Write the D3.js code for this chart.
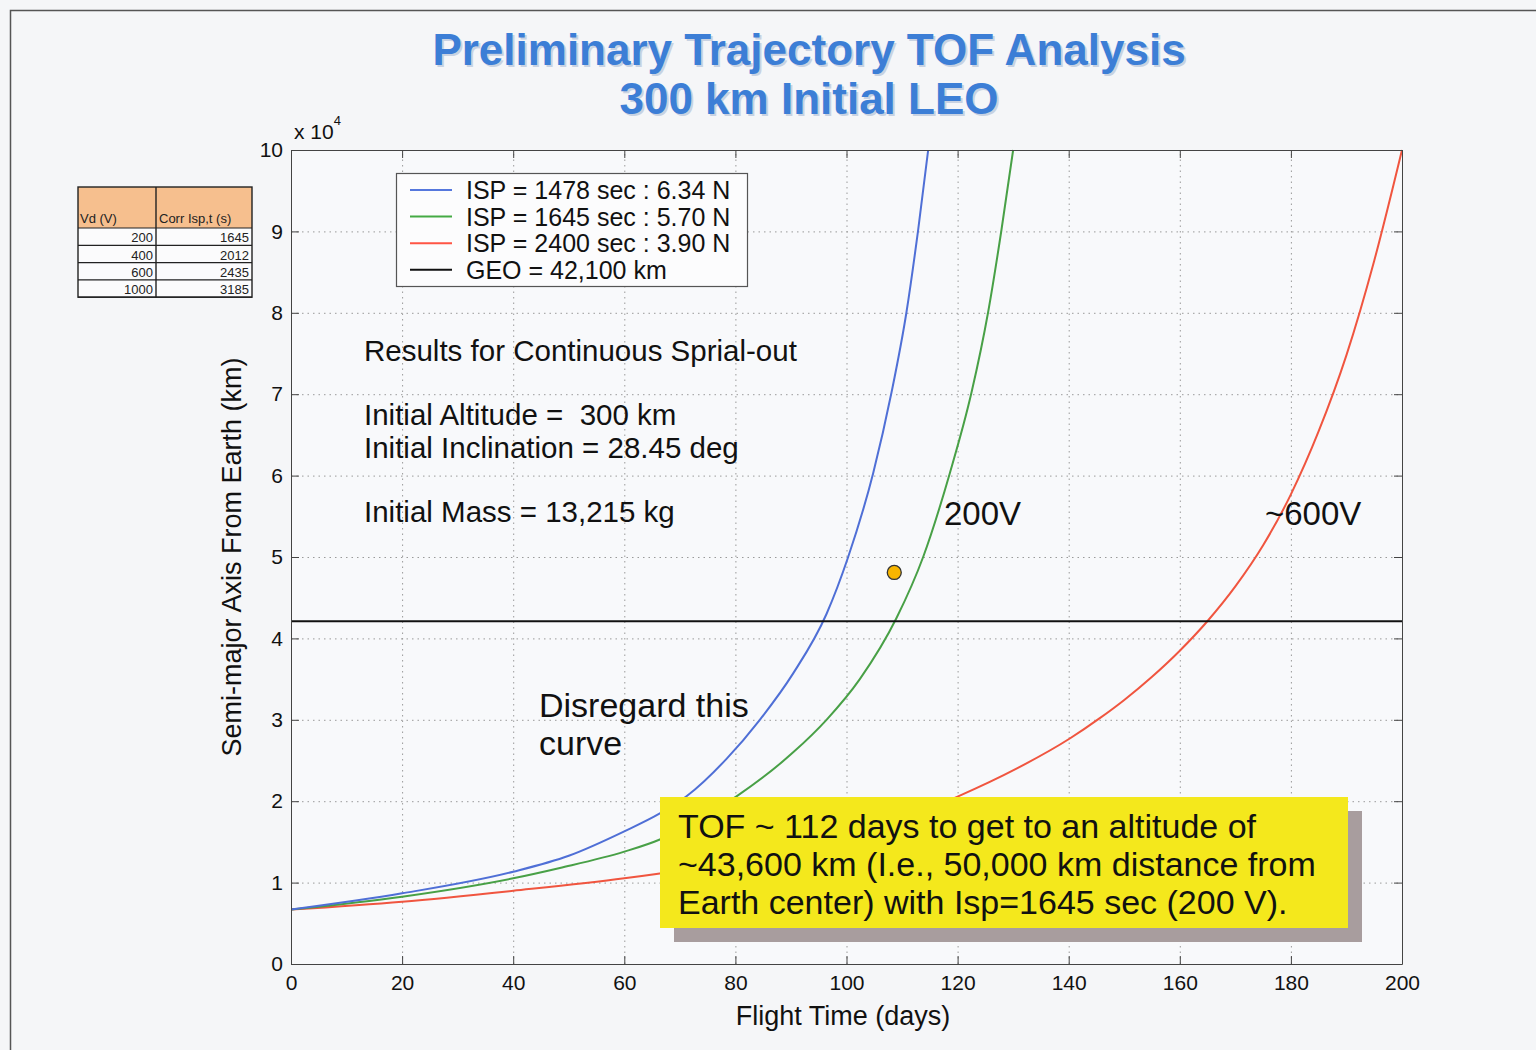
<!DOCTYPE html>
<html><head><meta charset="utf-8">
<script src="https://cdn.jsdelivr.net/npm/d3@7"></script>
<style>
body{margin:0;background:#f5f6f8;}
svg{display:block;font-family:"Liberation Sans",Arial,Helvetica,sans-serif;}
text{white-space:pre;}
</style></head><body>
<svg id="chart" width="1536" height="1050"></svg>
<script>
// ---- data (semi-major axis, km, vs flight time, days) ----
const blueDays  = [0, 20, 40, 50, 60, 66.4, 71.2, 78.4, 84.4, 90.4, 96.4, 100.3, 104.8, 108.1, 110.8, 112.9, 114.7];
const blueVals  = [6680, 8680, 11340, 13300, 16300, 18500, 20600, 25200, 30000, 35700, 43000, 50000, 60300, 70200, 80100, 90200, 100000];
const greenDays = [0, 20, 40, 48.4, 60, 66.4, 72, 80.2, 90.4, 96.4, 102.4, 109.0, 113.8, 118.6, 122.5, 125.5, 127.9, 130.0];
const greenVals = [6680, 8270, 10530, 11800, 13800, 15300, 17200, 20600, 26000, 30000, 35000, 42500, 50000, 60300, 70200, 80100, 90200, 100000];
const redDays   = [0, 20, 40, 60, 80, 100, 110, 120.1, 130.6, 140.2, 145.6, 150, 155, 160, 165, 170, 175, 180, 185, 190, 195, 200];
const redVals   = [6680, 7650, 9000, 10530, 12600, 15600, 17800, 20600, 24000, 27700, 30200, 32440, 35290, 38490, 42140, 46390, 51440, 57700, 65450, 74800, 86400, 100000];
const geoValue  = 42100;
const dotDay = 108.6, dotVal = 48100;

const legendLabels = ["ISP = 1478 sec : 6.34 N", "ISP = 1645 sec : 5.70 N", "ISP = 2400 sec : 3.90 N", "GEO = 42,100 km"];
const legendColors = ["#5577dd", "#44aa44", "#ff5544", "#111111"];
const seriesColors = ["#4f6fd6", "#48a046", "#f0553f"];

const xTicks = [0, 20, 40, 60, 80, 100, 120, 140, 160, 180, 200];
const yTicks = [0, 10000, 20000, 30000, 40000, 50000, 60000, 70000, 80000, 90000, 100000];

const tableHeaders = ["Vd (V)", "Corr Isp,t (s)"];
const tableVd  = [200, 400, 600, 1000];
const tableIsp = [1645, 2012, 2435, 3185];

const titleLines = ["Preliminary Trajectory TOF Analysis", "300 km Initial LEO"];
const noteLines = ["Results for Continuous Sprial-out", "Initial Altitude =  300 km", "Initial Inclination = 28.45 deg", "Initial Mass = 13,215 kg"];
const boxLines = ["TOF ~ 112 days to get to an altitude of", "~43,600 km (I.e., 50,000 km distance from", "Earth center) with Isp=1645 sec (200 V)."];

// ---- chart ----
const svg = d3.select("#chart");
const X0 = 291, X1 = 1402, Y0 = 964, Y1 = 150;
const x = d3.scaleLinear().domain([0, 200]).range([X0, X1]);
const y = d3.scaleLinear().domain([0, 100000]).range([Y0, Y1]);

// outer frame
svg.append("rect").attr("width", 1536).attr("height", 1050).attr("fill", "#f5f6f8");
svg.append("path").attr("d", "M10.5,1050 V10.5 H1536").attr("fill", "none").attr("stroke", "#555").attr("stroke-width", 1.5);

// title
titleLines.forEach((t, i) => {
  svg.append("text").attr("x", 811).attr("y", 67 + i * 49).attr("text-anchor", "middle")
    .attr("font-size", 44).attr("font-weight", "bold").attr("fill", "#c8d2e2").text(t);
  svg.append("text").attr("x", 809).attr("y", 65 + i * 49).attr("text-anchor", "middle")
    .attr("font-size", 44).attr("font-weight", "bold").attr("fill", "#3c7ed6").text(t);
});

// plot background
svg.append("rect").attr("x", X0).attr("y", Y1).attr("width", X1 - X0).attr("height", Y0 - Y1).attr("fill", "#f8f9fb");

// grid
const grid = svg.append("g");
grid.append("g").attr("transform", `translate(0,${Y0})`)
  .call(d3.axisBottom(x).tickValues(xTicks).tickSize(-(Y0 - Y1)).tickFormat(""))
  .call(g => { g.select(".domain").remove(); g.selectAll("line").attr("stroke", "#9a9a9a").attr("stroke-dasharray", "1.5,4"); });
grid.append("g").attr("transform", `translate(${X0},0)`)
  .call(d3.axisLeft(y).tickValues(yTicks).tickSize(-(X1 - X0)).tickFormat(""))
  .call(g => { g.select(".domain").remove(); g.selectAll("line").attr("stroke", "#9a9a9a").attr("stroke-dasharray", "1.5,4"); });

// curves
svg.append("clipPath").attr("id", "clip").append("rect").attr("x", X0).attr("y", Y1 - 1).attr("width", X1 - X0 + 1).attr("height", Y0 - Y1 + 1);
const line = d3.line().x(d => x(d[0])).y(d => y(d[1])).curve(d3.curveMonotoneX);
const series = [
  [d3.zip(redDays, redVals), seriesColors[2]],
  [d3.zip(greenDays, greenVals), seriesColors[1]],
  [d3.zip(blueDays, blueVals), seriesColors[0]]
];
const plot = svg.append("g").attr("clip-path", "url(#clip)");
series.forEach(([s, c]) => {
  plot.append("path").attr("d", line(s)).attr("fill", "none").attr("stroke", c).attr("stroke-width", 2);
});
plot.append("line").attr("x1", x(0)).attr("x2", x(200)).attr("y1", y(geoValue)).attr("y2", y(geoValue))
  .attr("stroke", "#111").attr("stroke-width", 2);

// axes
const axStyle = g => { g.selectAll(".domain, line").attr("stroke", "#444"); g.selectAll("text").attr("fill", "#111").attr("font-size", 21).attr("font-family", "Liberation Sans, Arial, sans-serif"); };
svg.append("g").attr("transform", `translate(0,${Y0})`)
  .call(d3.axisBottom(x).tickValues(xTicks).tickSizeInner(-8).tickSizeOuter(0).tickPadding(11).tickFormat(d3.format("d")))
  .call(axStyle);
svg.append("g").attr("transform", `translate(0,${Y1})`)
  .call(d3.axisTop(x).tickValues(xTicks).tickSizeInner(-8).tickSizeOuter(0).tickFormat(""))
  .call(axStyle);
svg.append("g").attr("transform", `translate(${X0},0)`)
  .call(d3.axisLeft(y).tickValues(yTicks).tickSizeInner(-8).tickSizeOuter(0).tickPadding(8).tickFormat(d => d / 10000))
  .call(axStyle);
svg.append("g").attr("transform", `translate(${X1},0)`)
  .call(d3.axisRight(y).tickValues(yTicks).tickSizeInner(-8).tickSizeOuter(0).tickFormat(""))
  .call(axStyle);

// exponent label
const ex = svg.append("text").attr("x", 294).attr("y", 139).attr("font-size", 21).attr("fill", "#111");
ex.append("tspan").text("x 10");
ex.append("tspan").attr("dy", -14).attr("font-size", 13).text("4");

// axis titles
svg.append("text").attr("x", 843).attr("y", 1025).attr("text-anchor", "middle").attr("font-size", 27).attr("fill", "#111").text("Flight Time (days)");
svg.append("text").attr("transform", "translate(241,557) rotate(-90)").attr("text-anchor", "middle").attr("font-size", 27).attr("fill", "#111").text("Semi-major Axis From Earth (km)");

// legend
const lg = svg.append("g");
lg.append("rect").attr("x", 396.5).attr("y", 173.5).attr("width", 351).attr("height", 113).attr("fill", "#fcfcfd").attr("stroke", "#555").attr("stroke-width", 1.2);
legendLabels.forEach((t, i) => {
  const yy = 190 + i * 26.6;
  lg.append("line").attr("x1", 410).attr("x2", 452).attr("y1", yy).attr("y2", yy).attr("stroke", legendColors[i]).attr("stroke-width", 2);
  lg.append("text").attr("x", 466).attr("y", yy + 9).attr("font-size", 25).attr("fill", "#111").text(t);
});

// notes
const noteY = [361, 425, 458, 522];
noteLines.forEach((t, i) => {
  svg.append("text").attr("x", 364).attr("y", noteY[i]).attr("font-size", 29.5).attr("fill", "#111").text(t);
});
svg.append("text").attr("x", 539).attr("y", 717).attr("font-size", 34).attr("fill", "#111").text("Disregard this");
svg.append("text").attr("x", 539).attr("y", 755).attr("font-size", 34).attr("fill", "#111").text("curve");
svg.append("text").attr("x", 944).attr("y", 525).attr("font-size", 33).attr("fill", "#111").text("200V");
svg.append("text").attr("x", 1265).attr("y", 525).attr("font-size", 33).attr("fill", "#111").text("~600V");

// dot
svg.append("circle").attr("cx", x(dotDay)).attr("cy", y(dotVal)).attr("r", 7).attr("fill", "#f7b500").attr("stroke", "#333").attr("stroke-width", 1.3);

// yellow callout
svg.append("rect").attr("x", 674).attr("y", 811).attr("width", 688).attr("height", 131).attr("fill", "#a89d9e");
svg.append("rect").attr("x", 660).attr("y", 797).attr("width", 688).attr("height", 131).attr("fill", "#f4e81c");
boxLines.forEach((t, i) => {
  svg.append("text").attr("x", 678).attr("y", 838 + i * 38).attr("font-size", 34).attr("fill", "#111").text(t);
});

// table
const tb = svg.append("g");
const tx0 = 78, tx1 = 156, tx2 = 252, ty0 = 187, tyh = 228, rowH = 17.3;
tb.append("rect").attr("x", tx0).attr("y", ty0).attr("width", tx2 - tx0).attr("height", tyh - ty0).attr("fill", "#f6bf8e");
tb.append("rect").attr("x", tx0).attr("y", tyh).attr("width", tx2 - tx0).attr("height", rowH * 4).attr("fill", "#fbfbfc");
tb.append("text").attr("x", tx0 + 2).attr("y", tyh - 5).attr("font-size", 13).attr("fill", "#222").text(tableHeaders[0]);
tb.append("text").attr("x", tx1 + 3).attr("y", tyh - 5).attr("font-size", 13).attr("fill", "#222").text(tableHeaders[1]);
tableVd.forEach((v, i) => {
  const yy = tyh + rowH * (i + 1);
  tb.append("text").attr("x", tx1 - 3).attr("y", yy - 3).attr("text-anchor", "end").attr("font-size", 13).attr("fill", "#222").text(v);
  tb.append("text").attr("x", tx2 - 3).attr("y", yy - 3).attr("text-anchor", "end").attr("font-size", 13).attr("fill", "#222").text(tableIsp[i]);
  tb.append("line").attr("x1", tx0).attr("x2", tx2).attr("y1", yy).attr("y2", yy).attr("stroke", "#222").attr("stroke-width", 1.2);
});
tb.append("line").attr("x1", tx0).attr("x2", tx2).attr("y1", tyh).attr("y2", tyh).attr("stroke", "#222").attr("stroke-width", 1.2);
tb.append("rect").attr("x", tx0).attr("y", ty0).attr("width", tx2 - tx0).attr("height", tyh - ty0 + rowH * 4).attr("fill", "none").attr("stroke", "#222").attr("stroke-width", 1.4);
tb.append("line").attr("x1", tx1).attr("x2", tx1).attr("y1", ty0).attr("y2", tyh + rowH * 4).attr("stroke", "#222").attr("stroke-width", 1.4);
</script>
</body></html>
